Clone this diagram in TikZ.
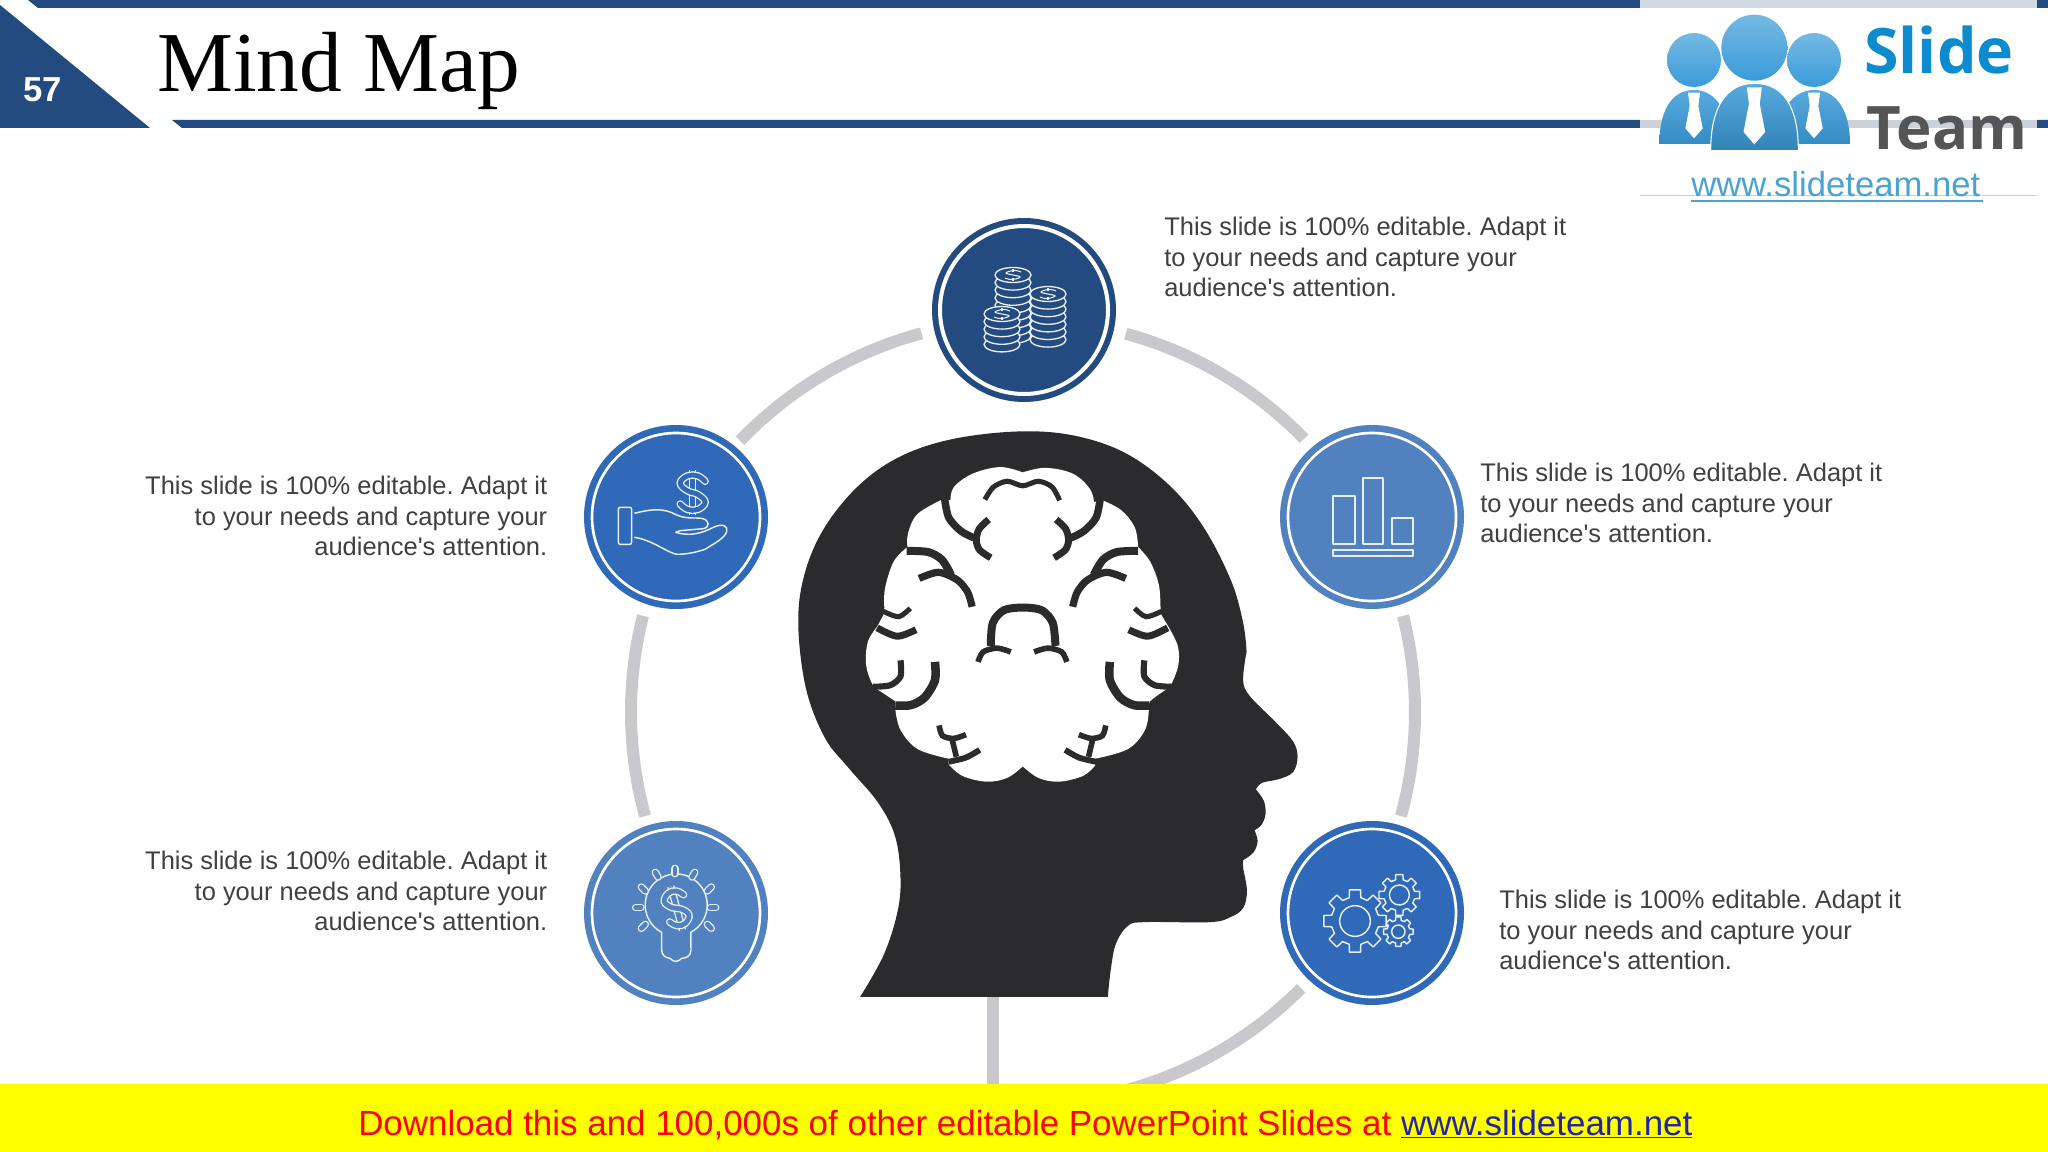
\documentclass[tikz,border=0pt]{standalone}
\usepackage{fontspec}
\setmainfont{Liberation Sans}
\newfontfamily\timesf{Liberation Serif}
\newfontfamily\logof{Open Sans}
\usetikzlibrary{calc}
\definecolor{navy}{HTML}{244B80}
\definecolor{midblue}{HTML}{2F69B7}
\definecolor{softblue}{HTML}{5182BF}
\definecolor{ringgray}{HTML}{C9C8CC}
\definecolor{headdark}{HTML}{2B2A2D}
\definecolor{bodytext}{HTML}{404040}
\definecolor{iconw}{HTML}{E8EFF8}
\definecolor{logoblue}{HTML}{3A9BD8}
\definecolor{logolink}{HTML}{4BA3D3}
\definecolor{logoslidec}{HTML}{0E8ACF}
\definecolor{logoteamc}{HTML}{555555}
\definecolor{bandtop}{HTML}{D0D8E2}
\definecolor{bandmid}{HTML}{CDD1D8}
\definecolor{footblue}{HTML}{2222AA}
\definecolor{footyellow}{RGB}{255,255,0}
\definecolor{footred}{RGB}{255,0,0}
\tikzset{
  x=0.75pt,y=-0.75pt,
  ringarc/.style={draw=ringgray,line width=9pt},
  disc/.style={circle,minimum size=138pt,inner sep=0pt,fill=#1},
  info/.style={inner sep=0pt,text=bodytext,font=\fontsize{19.1}{22.9}\selectfont\frenchspacing},
  ic/.style={draw=iconw,line width=1.1pt,line join=round},
  dbl/.style={draw=iconw,line width=1pt,double=#1,double distance=3.6pt},
  bs/.style={draw=headdark,line width=#1,line cap=butt},
  logohead/.style={top color=#1!70!white,bottom color=#1},
}
% dollar sign drawn as an outline: centre x, y, half width, half height, fill colour, slant
\newcommand\dollarsign[6]{%
  \begin{scope}[shift={(#1,#2)},rotate=#6]
    \draw[dbl=#5] (0,-#4) -- (0,#4);
    \draw[dbl=#5,line cap=round] plot[smooth,tension=0.7] coordinates {
      ({.85*#3},{-.5*#4}) ({.35*#3},{-.74*#4}) ({-.35*#3},{-.74*#4}) ({-.85*#3},{-.42*#4})
      ({-.35*#3},{-.08*#4}) ({.35*#3},{.08*#4}) ({.85*#3},{.42*#4}) ({.35*#3},{.74*#4})
      ({-.35*#3},{.74*#4}) ({-.85*#3},{.5*#4})};
  \end{scope}}
% coin stack: centre x, top y, number of layers
\newcommand\coinstack[3]{%
  \foreach \k in {#3,...,0}{
    \draw[ic,line width=1pt,fill=navy] (#1,{#2+\k*7.6}) ellipse[x radius=18,y radius=7.5];
  }
  \draw[iconw,line width=0.8pt] plot[smooth,tension=0.8] coordinates {({#1+8},{#2-3}) ({#1+1},{#2-4.5}) ({#1-7},{#2-2}) ({#1},{#2}) ({#1+7},{#2+2}) ({#1-1},{#2+4.5}) ({#1-8},{#2+3})};
  \draw[iconw,line width=0.8pt] (#1,{#2-6}) -- (#1,{#2-3}) (#1,{#2+3}) -- (#1,{#2+6});
}
% gear: x, y, teeth, tip radius, root radius, hole radius, phase
\newcommand\gearicon[7]{%
  \draw[ic,fill=midblue] ({#1+#5*cos(#7-14)},{#2+#5*sin(#7-14)})
    \foreach \i [evaluate=\i as \a using #7+\i*360/#3] in {1,...,#3} {
      -- ({#1+#4*cos(\a-360/#3-10)},{#2+#4*sin(\a-360/#3-10)})
      -- ({#1+#4*cos(\a-360/#3+10)},{#2+#4*sin(\a-360/#3+10)})
      -- ({#1+#5*cos(\a-360/#3+14)},{#2+#5*sin(\a-360/#3+14)})
      -- ({#1+#5*cos(\a-14)},{#2+#5*sin(\a-14)})
    } -- cycle;
  \draw[ic] (#1,#2) circle[radius=#6];
}
% one side of the brain folds, in the head's local coordinates
\newcommand\brainside{%
  \draw[bs=5.6pt] plot[smooth] coordinates {(478,205) (490,255) (525,290) (563,308)};
  \draw[bs=5.2pt] plot[smooth] coordinates {(606,260) (578,285) (570,315) (580,340) (612,360)};
  \draw[bs=6pt] plot[smooth] coordinates {(368,342) (430,345) (470,365) (497,405)};
  \draw[bs=5.4pt] plot[smooth] coordinates {(404,414) (460,398) (515,418) (545,450) (558,488)};
  \draw[bs=3.8pt] plot[smooth] coordinates {(300,500) (345,514) (378,492)};
  \draw[bs=5.2pt] plot[smooth] coordinates {(282,543) (340,565) (395,548)};
  \draw[bs=4.6pt] plot[smooth] coordinates {(350,628) (350,670) (320,693) (270,697)};
  \draw[bs=6.4pt] plot[smooth] coordinates {(450,632) (450,680) (420,725) (380,745) (335,746)};
  \draw[bs=4.2pt] plot[smooth] coordinates {(462,798) (472,825) (505,832) (540,822)};
  \draw[bs=4.2pt] (500,835) -- (512,880);
  \draw[bs=4.4pt] plot[smooth] coordinates {(490,893) (540,882) (580,862)};
  \draw[bs=4.2pt] plot[smooth] coordinates {(575,632) (590,606) (630,596) (670,606)};
}
\begin{document}
\begin{tikzpicture}
\useasboundingbox[fill=white] (0,0) rectangle (2048,1152);

% header
\fill[navy] (28,0) -- (38,8) -- (2048,8) -- (2048,0) -- cycle;
\fill[navy] (0,5) -- (150,128) -- (0,128) -- cycle;
\fill[navy] (172,120) -- (182,128) -- (2048,128) -- (2048,120) -- cycle;
\fill[white] (1640,0) rectangle (2037,197);
\fill[bandtop] (1640,0) rectangle (2037,8);
\fill[bandmid] (1640,120) rectangle (2037,128);
\draw[draw=bandmid,line width=0.6pt] (1640,195) -- (2037,195);
\node (pagenum) [inner sep=0pt,text=white,font=\fontsize{26}{30}\bfseries\selectfont] at (43,90) {57};
\node (title) [inner sep=0pt,anchor=base west,text=black,font=\fontsize{64}{76}\timesf\selectfont] at (157,92) {Mind Map};

% logo
\begin{scope}[shift={(1620,0)},x=0.25pt,y=-0.25pt]
  \path[logohead=logoblue] (222,180) circle[radius=81];
  \path[logohead=logoblue] (582,180) circle[radius=81];
  \path[logohead=logoblue] (403,143) circle[radius=99];
  \path[top color=logoblue!85!white,bottom color=logoblue!90!black] (118,432) .. controls (118,340) and (150,270) .. (222,270) .. controls (290,270) and (330,340) .. (330,432) -- cycle;
  \path[top color=logoblue!85!white,bottom color=logoblue!90!black] (690,432) .. controls (690,340) and (655,270) .. (582,270) .. controls (515,270) and (470,340) .. (470,432) -- cycle;
  \draw[draw=white,line width=0.8pt,top color=logoblue!85!white,bottom color=logoblue!85!black] (272,452) .. controls (272,320) and (320,250) .. (403,250) .. controls (490,250) and (535,320) .. (535,452) -- cycle;
  \foreach \tx/\ty/\ts in {222/278/1, 582/278/1, 403/262/1.25}{
    \fill[white] ($(\tx,\ty)+(-18*\ts,0)$) -- ($(\tx,\ty)+(18*\ts,0)$) -- ($(\tx,\ty)+(13*\ts,40*\ts)$) -- ($(\tx,\ty)+(26*\ts,107*\ts)$) -- ($(\tx,\ty)+(0,137*\ts)$) -- ($(\tx,\ty)+(-26*\ts,107*\ts)$) -- ($(\tx,\ty)+(-13*\ts,40*\ts)$) -- cycle;
  }
\end{scope}
\node (logoslide) [inner sep=0pt,anchor=base west,text=logoslidec,font=\fontsize{47}{50}\logof\bfseries\selectfont] at (1864,74) {Slide};
\node (logoteam) [inner sep=0pt,anchor=base west,text=logoteamc,font=\fontsize{45}{50}\logof\bfseries\selectfont] at (1866,150) {Team};
\node (logourl) [inner sep=0pt,anchor=base west,text=logolink,font=\fontsize{26}{30}\selectfont] at (1691,196) {www.slideteam.net};
\draw[draw=logolink,line width=1.5pt] (1691,201) -- (1983,201);

% ring
\coordinate (ringc) at (1023,712);
\foreach \sa/\ea in {-74.8/-44.2,-14.2/15.4,44.8/78,164.6/194.2,223.8/255}{
  \draw[ringarc] ($(ringc)+(\sa:392)$) arc[start angle=\sa,end angle=\ea,radius=392];
}
\coordinate (stemtop) at (993,990);
\coordinate (stembot) at (993,1090);
\draw[ringarc,line width=9pt] (stemtop) -- (stembot);

% head
\begin{scope}[shift={(780,420)},x=0.25826pt,y=-0.28703pt]
  \fill[headdark] (233,1507)
    -- plot[smooth,tension=0.6] coordinates {(233,1507) (300,1400) (340,1290) (350,1200) (335,1090) (285,1000) (200,910) (130,830) (75,700) (53,530) (72,400) (130,280) (230,170) (350,95) (500,50) (690,30) (850,40) (1000,85) (1130,170) (1230,280) (1310,420) (1345,530) (1355,605)}
    -- plot[smooth,tension=0.6] coordinates {(1355,605) (1345,680) (1365,722) (1440,790) (1490,840) (1503,880) (1490,920) (1450,938) (1400,948) (1382,965)}
    -- plot[smooth,tension=0.6] coordinates {(1382,965) (1405,995) (1410,1030) (1398,1058) (1378,1072)}
    -- plot[smooth,tension=0.6] coordinates {(1378,1072) (1387,1100) (1375,1130) (1345,1150)}
    -- plot[smooth,tension=0.6] coordinates {(1345,1150) (1345,1170) (1356,1230) (1345,1275) (1310,1298) (1250,1312) (1060,1312) (1010,1322) (975,1370) (960,1440) (952,1507)}
    -- cycle;
  % brain silhouette
  \fill[white] (705,137)
    -- plot[smooth,tension=0.6] coordinates {(705,137) (770,125) (850,140) (900,180) (912,215)}
    -- (932,208)
    -- plot[smooth,tension=0.6] coordinates {(932,208) (990,235) (1030,280) (1040,332)}
    -- plot[smooth,tension=0.6] coordinates {(1040,332) (1075,370) (1100,430) (1105,490)}
    -- (1108,510) -- (1128,540)
    -- plot[smooth,tension=0.6] coordinates {(1128,540) (1155,590) (1157,640) (1138,688)}
    -- (1120,705)
    -- plot[smooth,tension=0.6] coordinates {(1120,705) (1075,735) (1071,757)}
    -- plot[smooth,tension=0.6] coordinates {(1071,757) (1060,810) (1010,860) (915,885)}
    -- (915,903)
    -- plot[smooth,tension=0.6] coordinates {(915,903) (880,930) (810,945) (750,935) (705,905)}
    -- plot[smooth,tension=0.6] coordinates {(705,905) (660,935) (600,945) (530,930) (490,900)}
    -- (490,885)
    -- plot[smooth,tension=0.6] coordinates {(490,885) (400,860) (350,810) (335,757)}
    -- (335,735) -- (285,705)
    -- plot[smooth,tension=0.6] coordinates {(285,705) (268,690) (250,640) (255,580) (282,540)}
    -- (300,510)
    -- plot[smooth,tension=0.6] coordinates {(303,490) (305,440) (330,370) (370,332)}
    -- plot[smooth,tension=0.6] coordinates {(370,332) (372,295) (400,245) (473,207)}
    -- (495,210)
    -- plot[smooth,tension=0.6] coordinates {(495,210) (505,175) (560,140) (640,123) (705,137)}
    -- cycle;
  \draw[bs=3.8pt] plot[smooth] coordinates {(595,208) (620,175) (660,160) (705,172) (750,160) (790,175) (812,210)};
  \draw[bs=6pt] plot[smooth] coordinates {(612,590) (618,530) (650,497) (705,490) (760,497) (792,530) (800,590)};
  \brainside
  \begin{scope}[shift={(1408,0)},xscale=-1]
    \brainside
  \end{scope}
\end{scope}

% circles
\node (ctop) [disc=navy] at (1024,310) {};
\node (cleftup) [disc=midblue] at (676,517) {};
\node (crightup) [disc=softblue] at (1372,517) {};
\node (cleftlow) [disc=softblue] at (676,913) {};
\node (crightlow) [disc=midblue] at (1372,913) {};
\draw[white,line width=3pt] (ctop.center) circle[radius=84];
\foreach \c in {cleftup,crightup,cleftlow,crightlow}{
  \draw[white,line width=2pt] (\c.center) circle[radius=84];
}

% coins
\coinstack{1013}{275}{8}
\coinstack{1048}{294}{6}
\coinstack{1002}{314}{4}

% hand with dollar
\begin{scope}[shift={(580,420)},x=0.25pt,y=-0.25pt]
  \dollarsign{338}{218}{44}{68}{midblue}{0}
  \draw[ic,rounded corners=1.5pt] (115,262) rectangle (155,373);
  \draw[ic,fill=midblue] (163,280) .. controls (210,268) and (250,262) .. (290,285) .. controls (320,298) and (345,292) .. (365,295)
     .. controls (390,300) and (390,322) .. (370,326) -- (300,332) -- (287,337) .. controls (330,350) and (365,340) .. (400,322)
     .. controls (430,308) and (445,320) .. (440,335) .. controls (435,355) and (395,375) .. (375,388) .. controls (340,400) and (300,405) .. (285,402)
     .. controls (250,390) and (215,360) .. (163,352);
\end{scope}

% bar chart
\begin{scope}[shift={(1270,420)},x=0.25pt,y=-0.25pt]
  \draw[ic,line width=1.4pt] (190,228) rectangle (255,373);
  \draw[ic,line width=1.4pt] (278,175) rectangle (340,373);
  \draw[ic,line width=1.4pt] (365,293) rectangle (428,373);
  \draw[ic,line width=1.4pt] (190,390) rectangle (428,408);
\end{scope}

% bulb with dollar
\begin{scope}[shift={(580,815)},x=0.25pt,y=-0.25pt]
  \draw[ic] (245,352) arc[start angle=118,end angle=422,radius=93] -- (333,405)
    .. controls (333,425) and (315,430) .. (305,430) .. controls (295,442) and (280,442) .. (270,430) .. controls (255,428) and (245,420) .. (245,405) -- cycle;
  \dollarsign{290}{280}{36}{68}{softblue}{15}
  \foreach \ax/\ay/\bx/\by in {285/160/285/176, 226/172/234/186, 344/172/336/186, 184/216/196/228, 394/216/382/228, 167/278/183/278, 391/278/407/278, 184/340/196/328, 394/340/382/328}{
    \draw[dbl=softblue,line cap=round] (\ax,\ay) -- (\bx,\by);
  }
\end{scope}

% gears
\begin{scope}[shift={(1270,815)},x=0.25pt,y=-0.25pt]
  \gearicon{385}{350}{8}{45}{35}{20}{0}
  \gearicon{388}{240}{8}{62}{47}{30}{0}
  \gearicon{255}{318}{8}{95}{72}{46}{0}
\end{scope}

% texts
\node (t1) [info,anchor=west,align=left] at (1164,257) {This slide is 100\% editable. Adapt it\\to your needs and capture your\\audience\textquotesingle s attention.};
\node (t2) [info,anchor=west,align=left] at (1480,503) {This slide is 100\% editable. Adapt it\\to your needs and capture your\\audience\textquotesingle s attention.};
\node (t3) [info,anchor=west,align=left] at (1499,930) {This slide is 100\% editable. Adapt it\\to your needs and capture your\\audience\textquotesingle s attention.};
\node (t4) [info,anchor=east,align=right] at (547.5,516) {This slide is 100\% editable. Adapt it\\to your needs and capture your\\audience\textquotesingle s attention.};
\node (t5) [info,anchor=east,align=right] at (547.5,891) {This slide is 100\% editable. Adapt it\\to your needs and capture your\\audience\textquotesingle s attention.};

% footer
\fill[footyellow] (0,1084) rectangle (2048,1152);
\node (foot) [inner sep=0pt,anchor=west,font=\fontsize{26.2}{30}\selectfont,text=footred] at (358,1125) {Download this and 100,000s of other editable PowerPoint Slides at {\color{footblue}\underline{www.slideteam.net}}};
\end{tikzpicture}
\end{document}
